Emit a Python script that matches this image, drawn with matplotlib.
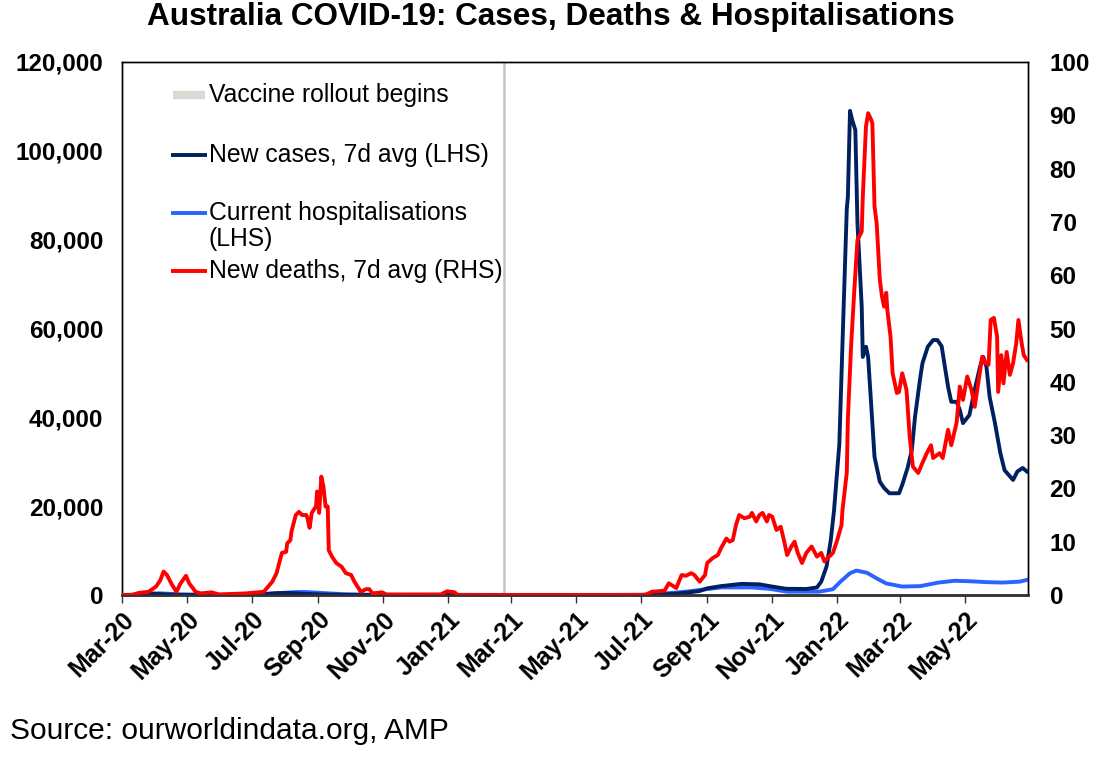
import matplotlib
matplotlib.use('Agg')
import matplotlib.pyplot as plt
import matplotlib.dates as mdates
import pandas as pd
from matplotlib.ticker import FuncFormatter

plt.rcParams['font.family'] = ['Liberation Sans', 'DejaVu Sans']

# ---------------- data ----------------
cases_dates = ['2020-03-01', '2020-03-15', '2020-03-28', '2020-04-10', '2020-04-25', '2020-06-01',
               '2020-06-25', '2020-07-10', '2020-07-25', '2020-08-05', '2020-08-20', '2020-09-05',
               '2020-09-25', '2020-10-15', '2020-11-15', '2020-12-25', '2021-01-05', '2021-02-15',
               '2021-06-01', '2021-06-30', '2021-07-15', '2021-07-31', '2021-08-12', '2021-08-25',
               '2021-09-01', '2021-09-14', '2021-10-03', '2021-10-20', '2021-11-01', '2021-11-14',
               '2021-12-03', '2021-12-13', '2021-12-17', '2021-12-22', '2021-12-26', '2021-12-29',
               '2022-01-03', '2022-01-06', '2022-01-10', '2022-01-11', '2022-01-13', '2022-01-15',
               '2022-01-18', '2022-01-20', '2022-01-24', '2022-01-25', '2022-01-28', '2022-01-30',
               '2022-02-02', '2022-02-05', '2022-02-10', '2022-02-14', '2022-02-19', '2022-02-28',
               '2022-03-03', '2022-03-08', '2022-03-12', '2022-03-15', '2022-03-20', '2022-03-22',
               '2022-03-27', '2022-04-01', '2022-04-05', '2022-04-09', '2022-04-12', '2022-04-15',
               '2022-04-18', '2022-04-23', '2022-04-26', '2022-04-29', '2022-05-05', '2022-05-10',
               '2022-05-15', '2022-05-18', '2022-05-21', '2022-05-24', '2022-05-29', '2022-06-03',
               '2022-06-07', '2022-06-15', '2022-06-19', '2022-06-24', '2022-06-28']
cases_vals = [0, 30, 350, 120, 15, 10,
              40, 180, 420, 450, 250, 100,
              25, 15, 10, 15, 20, 8,
              10, 25, 100, 230, 500, 900,
              1500, 2000, 2500, 2400, 1900, 1400,
              1350, 1700, 3000, 6400, 12400, 19000,
              34000, 57000, 87000, 89600, 109000, 107000,
              104700, 83700, 64900, 53600, 55900, 53600,
              42400, 31100, 25500, 24100, 22900, 22900,
              24800, 28600, 32600, 40100, 49100, 52200,
              55900, 57400, 57400, 56000, 51400, 46900,
              43500, 43500, 41700, 38700, 40500, 46200,
              51400, 53600, 51400, 44600, 38700, 32000,
              28100, 25900, 27800, 28600, 27800]

hosp_dates = ['2020-03-01', '2020-03-20', '2020-04-05', '2020-04-25', '2020-05-20', '2020-06-25',
              '2020-07-15', '2020-08-10', '2020-08-20', '2020-09-05', '2020-09-25', '2020-10-20',
              '2020-11-20', '2021-01-10', '2021-02-15', '2021-06-01', '2021-07-01', '2021-07-11',
              '2021-08-12', '2021-09-14', '2021-10-13', '2021-10-29', '2021-11-15', '2021-12-15',
              '2021-12-28', '2022-01-04', '2022-01-13', '2022-01-19', '2022-01-29', '2022-02-07',
              '2022-02-16', '2022-03-03', '2022-03-20', '2022-04-06', '2022-04-21', '2022-05-05',
              '2022-05-21', '2022-06-05', '2022-06-21', '2022-06-28']
hosp_vals = [0, 100, 380, 150, 50, 60,
             250, 650, 680, 450, 180, 60,
             20, 30, 20, 20, 40, 100,
             750, 1700, 1700, 1400, 750, 750,
             1300, 3000, 4900, 5500, 5000, 3750,
             2600, 1900, 2000, 2800, 3200, 3100,
             2900, 2800, 3000, 3400]

deaths_dates = ['2020-03-01', '2020-03-10', '2020-03-17', '2020-03-26', '2020-04-02', '2020-04-06',
                '2020-04-09', '2020-04-12', '2020-04-17', '2020-04-21', '2020-04-25', '2020-04-30',
                '2020-05-03', '2020-05-09', '2020-05-14', '2020-05-24', '2020-05-31', '2020-06-25',
                '2020-07-12', '2020-07-20', '2020-07-24', '2020-07-29', '2020-08-02', '2020-08-03',
                '2020-08-06', '2020-08-07', '2020-08-11', '2020-08-14', '2020-08-17', '2020-08-21',
                '2020-08-22', '2020-08-24', '2020-08-26', '2020-08-30', '2020-08-31', '2020-09-02',
                '2020-09-04', '2020-09-06', '2020-09-08', '2020-09-10', '2020-09-11', '2020-09-14',
                '2020-09-18', '2020-09-23', '2020-09-27', '2020-10-02', '2020-10-05', '2020-10-07',
                '2020-10-11', '2020-10-16', '2020-10-19', '2020-10-22', '2020-10-31', '2020-11-04',
                '2020-12-25', '2020-12-31', '2021-01-07', '2021-01-10', '2021-07-05', '2021-07-11',
                '2021-07-23', '2021-07-27', '2021-08-03', '2021-08-08', '2021-08-12', '2021-08-17',
                '2021-08-20', '2021-08-25', '2021-08-30', '2021-09-01', '2021-09-06', '2021-09-11',
                '2021-09-14', '2021-09-19', '2021-09-22', '2021-09-25', '2021-09-28', '2021-10-01',
                '2021-10-06', '2021-10-11', '2021-10-13', '2021-10-17', '2021-10-20', '2021-10-23',
                '2021-10-27', '2021-10-29', '2021-11-01', '2021-11-05', '2021-11-09', '2021-11-12',
                '2021-11-15', '2021-11-19', '2021-11-22', '2021-11-25', '2021-11-29', '2021-12-03',
                '2021-12-08', '2021-12-13', '2021-12-17', '2021-12-20', '2021-12-23', '2021-12-28',
                '2022-01-01', '2022-01-05', '2022-01-06', '2022-01-10', '2022-01-11', '2022-01-14',
                '2022-01-17', '2022-01-20', '2022-01-24', '2022-01-25', '2022-01-28', '2022-01-30',
                '2022-02-02', '2022-02-03', '2022-02-05', '2022-02-07', '2022-02-10', '2022-02-12',
                '2022-02-14', '2022-02-16', '2022-02-17', '2022-02-20', '2022-02-22', '2022-02-26',
                '2022-02-28', '2022-03-03', '2022-03-07', '2022-03-10', '2022-03-13', '2022-03-18',
                '2022-03-22', '2022-03-26', '2022-03-30', '2022-04-01', '2022-04-07', '2022-04-10',
                '2022-04-15', '2022-04-18', '2022-04-23', '2022-04-26', '2022-04-29', '2022-05-03',
                '2022-05-07', '2022-05-10', '2022-05-17', '2022-05-20', '2022-05-23', '2022-05-25',
                '2022-05-28', '2022-05-31', '2022-06-01', '2022-06-04', '2022-06-06', '2022-06-09',
                '2022-06-12', '2022-06-15', '2022-06-18', '2022-06-20', '2022-06-23', '2022-06-25',
                '2022-06-28']
deaths_vals = [0, 0, 0.4, 0.6, 1.6, 2.8,
               4.4, 3.8, 1.9, 0.6, 2.2, 3.6,
               2.2, 0.6, 0.3, 0.5, 0.1, 0.3,
               0.6, 2.5, 4.1, 7.9, 8.1, 9.7,
               10.3, 11.9, 15.0, 15.6, 15.0, 15.0,
               14.4, 12.6, 15.4, 16.6, 19.4, 15.4,
               22.2, 20.3, 16.6, 16.6, 8.4, 7.2,
               6.0, 5.3, 4.1, 3.75, 2.5, 1.9,
               0.6, 1.1, 1.1, 0.3, 0.5, 0.1,
               0.1, 0.7, 0.5, 0.0, 0.0, 0.6,
               0.8, 2.2, 1.3, 3.75, 3.6, 4.1,
               3.75, 2.5, 3.75, 6.0, 6.9, 7.5,
               8.8, 10.6, 10.0, 10.3, 13.1, 15.0,
               14.4, 14.7, 15.4, 13.8, 15.0, 15.4,
               13.8, 15.0, 14.7, 12.2, 12.8, 10.3,
               7.5, 9.1, 10.0, 7.9, 6.0, 7.9,
               9.1, 7.2, 7.9, 6.3, 6.9, 7.9,
               10.3, 13.1, 16.0, 23.0, 33.0, 46.6,
               57.0, 66.6, 68.2, 74.7, 87.9, 90.4,
               89.1, 88.5, 72.9, 69.8, 59.1, 56.0,
               54.1, 56.7, 53.5, 48.5, 41.6, 37.9,
               38.1, 41.6, 38.5, 29.7, 24.1, 22.9,
               24.8, 26.6, 28.1, 25.7, 26.6, 25.7,
               31.0, 28.1, 32.3, 39.1, 36.6, 41.0,
               38.5, 35.3, 44.7, 43.5, 43.2, 51.6,
               52.0, 48.5, 38.1, 45.0, 39.7, 45.6,
               41.3, 43.5, 47.3, 51.6, 47.3, 45.0,
               44.1]

vaccine_date = '2021-02-22'
left_ticks = [0, 20000, 40000, 60000, 80000, 100000, 120000]
right_ticks = [0, 10, 20, 30, 40, 50, 60, 70, 80, 90, 100]

title = 'Australia COVID-19: Cases, Deaths & Hospitalisations'
source = 'Source: ourworldindata.org, AMP'
legend_labels = ['Vaccine rollout begins', 'New cases, 7d avg (LHS)',
                 'Current hospitalisations\n(LHS)', 'New deaths, 7d avg (RHS)']

# ---------------- styling ----------------
NAVY = '#002060'
BLUE = '#2B63FF'
RED = '#FF0000'
GREY = '#C4C4C4'
FS = 17.5
LW = 2.8

W, H = 1094, 765
fig = plt.figure(figsize=(W / 100, H / 100), dpi=100)
ax = fig.add_axes([122 / W, 170 / H, 906 / W, 533 / H])
ax2 = ax.twinx()

cd = pd.to_datetime(cases_dates)
hd = pd.to_datetime(hosp_dates)
dd = pd.to_datetime(deaths_dates)

ax.axvline(pd.Timestamp(vaccine_date), color=GREY, lw=1.8, zorder=1)
ax.plot(hd, hosp_vals, color=BLUE, lw=LW, zorder=3, solid_joinstyle='round')
ax.plot(cd, cases_vals, color=NAVY, lw=LW, zorder=4, solid_joinstyle='round')
ax2.plot(dd, deaths_vals, color=RED, lw=LW, zorder=5, solid_joinstyle='round')

ax.set_xlim(pd.Timestamp('2020-03-01'), pd.Timestamp('2022-06-29'))
ax.set_ylim(0, 120000)
ax2.set_ylim(0, 100)

ax.set_yticks(left_ticks)
ax.yaxis.set_major_formatter(FuncFormatter(lambda v, p: f'{int(v):,}'))
ax2.set_yticks(right_ticks)

ax.xaxis.set_major_locator(mdates.MonthLocator(bymonth=[1, 3, 5, 7, 9, 11]))
ax.xaxis.set_major_formatter(mdates.DateFormatter('%b-%y'))

ax.tick_params(axis='y', length=0, pad=13.5, labelsize=FS)
ax2.tick_params(axis='y', length=0, pad=15.5, labelsize=FS)
ax.tick_params(axis='x', length=6, width=1, direction='out', pad=3, labelsize=18, color='#333333')
for lbl in ax.get_yticklabels() + ax2.get_yticklabels():
    lbl.set_fontweight('bold')
for lbl in ax.get_xticklabels():
    lbl.set_fontweight('bold')
    lbl.set_rotation(45)
    lbl.set_ha('right')
    lbl.set_rotation_mode('anchor')

for a in (ax, ax2):
    for s in ('top', 'left', 'right'):
        a.spines[s].set_color('black')
        a.spines[s].set_linewidth(1.0)
    a.spines['bottom'].set_color('#333333')
    a.spines['bottom'].set_linewidth(1.8)

# ---------------- legend (manual, Excel-like spacing) ----------------
def ax_x(px):
    return (px - 122) / 906

def ax_y(py):
    return (595 - py) / 533

LFS = 17.8
h0, h1, tx = ax_x(171), ax_x(207), ax_x(209)
ax2.plot([h0 + 0.002, h1 - 0.002], [ax_y(95)] * 2, transform=ax2.transAxes, color='#DADAD4',
         lw=6, solid_capstyle='butt', clip_on=False)
ax2.plot([h0, h1], [ax_y(155)] * 2, transform=ax2.transAxes, color=NAVY, lw=LW,
         solid_capstyle='butt', clip_on=False)
ax2.plot([h0, h1], [ax_y(213)] * 2, transform=ax2.transAxes, color=BLUE, lw=LW,
         solid_capstyle='butt', clip_on=False)
ax2.plot([h0, h1], [ax_y(271)] * 2, transform=ax2.transAxes, color=RED, lw=LW,
         solid_capstyle='butt', clip_on=False)
ax2.text(tx, ax_y(95), legend_labels[0], transform=ax2.transAxes, fontsize=LFS, va='center')
ax2.text(tx, ax_y(155), legend_labels[1], transform=ax2.transAxes, fontsize=LFS, va='center')
ax2.text(tx, ax_y(213), legend_labels[2].split('\n')[0], transform=ax2.transAxes, fontsize=LFS, va='center')
ax2.text(tx, ax_y(239), legend_labels[2].split('\n')[1], transform=ax2.transAxes, fontsize=LFS, va='center')
ax2.text(tx, ax_y(271), legend_labels[3], transform=ax2.transAxes, fontsize=LFS, va='center')

fig.text(550.5 / W, 1 - 17 / H, title, ha='center', va='center', fontsize=22.7, fontweight='bold')
fig.text(10 / W, 1 - 731 / H, source, ha='left', va='center', fontsize=21.5)

fig.savefig('out.png', dpi=100)
